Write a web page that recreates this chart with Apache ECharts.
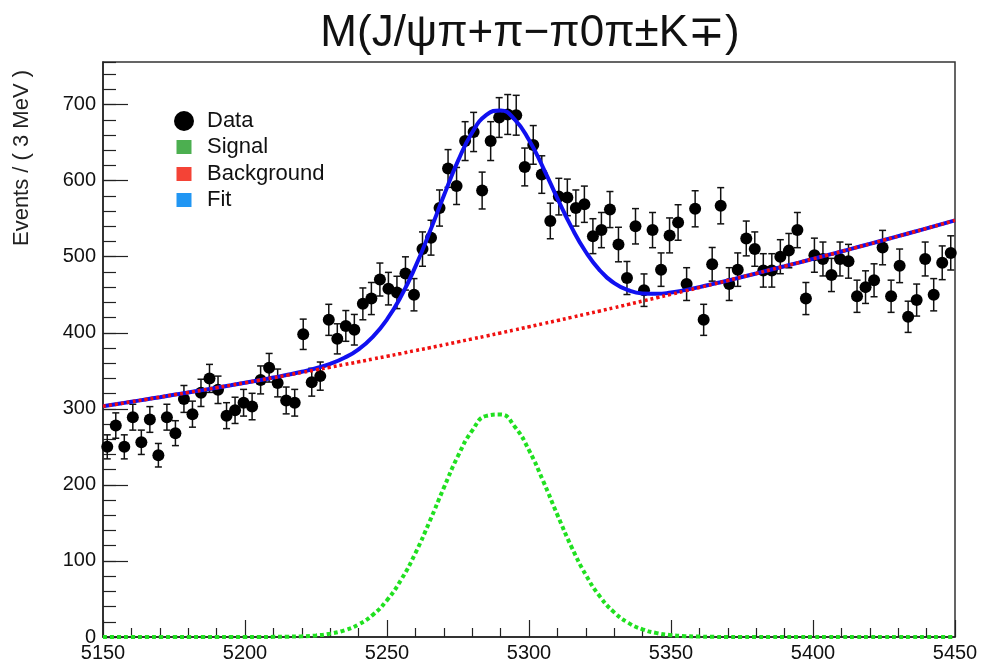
<!DOCTYPE html>
<html><head><meta charset="utf-8">
<script src="https://cdn.jsdelivr.net/npm/echarts@6/dist/echarts.min.js"></script>
<style>html,body{margin:0;padding:0;background:#fff}#c{width:984px;height:664px}</style>
</head><body><div id="c"></div>
<script>
// Histogram: 100 bins of 3 MeV from 5150 to 5450
const binStart = 5150;
const binWidth = 3;
const counts = [
 250,278,250,289,256,286,239,289,268,313,
 293,321,340,325,291,298,308,303,338,354,
 334,311,308,398,335,343,417,392,409,404,
 438,445,470,458,453,478,450,510,525,564,
 616,593,652,664,587,652,683,687,686,618,
 647,608,547,579,578,564,569,527,535,562,
 516,472,540,456,535,483,528,545,464,563,
 417,490,567,464,483,524,510,482,482,500,
 508,535,445,502,497,476,497,494,448,460,
 469,512,448,488,421,443,497,450,492,505
];
// Curves at 5 MeV steps
const curveX = [
 5150,5155,5160,5165,5170,5175,5180,5185,5190,5195,5200,5205,
 5210,5215,5220,5225,5230,5235,5240,5245,5250,5255,5260,5265,
 5270,5275,5280,5285,5290,5295,5300,5305,5310,5315,5320,5325,
 5330,5335,5340,5345,5350,5355,5360,5365,5370,5375,5380,5385,
 5390,5395,5400,5405,5410,5415,5420,5425,5430,5435,5440,5445,5450
];
const signalY = [
 0,0,0,0,0,0,0,0,0,0,0,0,
 0.2,0.4,0.9,2.1,4.4,8.8,16.5,29.1,48.4,75.4,110.3,151.8,
 196.1,238.0,271.4,290.7,292.5,276.5,245.6,204.9,160.6,118.2,81.7,53.1,
 32.4,18.6,10.0,5.1,2.4,1.1,0.5,0.2,0,0,0,0,
 0,0,0,0,0,0,0,0,0,0,0,0,0
];
const backgroundY = [
 303.4,306.3,309.3,312.3,315.3,318.4,321.5,324.6,327.8,331.0,334.3,337.6,
 340.9,344.3,347.8,351.2,354.7,358.3,361.8,365.5,369.1,372.8,376.6,380.3,
 384.1,388.0,391.9,395.8,399.8,403.8,407.9,412.0,416.1,420.3,424.5,428.7,
 433.0,437.3,441.7,446.1,450.5,455.0,459.5,464.1,468.7,473.4,478.0,482.8,
 487.5,492.3,497.2,502.0,506.9,511.9,516.9,521.9,527.0,532.1,537.3,542.5,547.7
];
const fitY = [
 303.4,306.3,309.3,312.3,315.3,318.4,321.5,324.6,327.8,331.0,334.3,337.6,
 341.1,344.7,348.7,353.3,359.1,367.1,378.3,394.6,417.5,448.2,486.9,532.1,
 580.2,626.0,663.3,686.5,692.3,680.3,653.5,616.9,576.7,538.5,506.2,481.8,
 465.4,455.9,451.7,451.2,452.9,456.1,460.0,464.3,468.7,473.4,478.0,482.8,
 487.5,492.3,497.2,502.0,506.9,511.9,516.9,521.9,527.0,532.1,537.3,542.5,547.7
];
const legendNames = ['Data','Signal','Background','Fit'];
const legendColors = ['#000000','#4CAF50','#F44336','#2196F3'];
const titleText = 'M(J/\u03c8\u03c0+\u03c0\u2212\u03c00\u03c0\u00b1K\u2213)';
const yTitle = 'Events / ( 3 MeV )';

const FONT = '"Liberation Sans", Arial, Helvetica, sans-serif';
const centers = counts.map((c, i) => binStart + binWidth * (i + 0.5));
const pts = counts.map((c, i) => [centers[i], c]);
const errs = counts.map((c, i) => [centers[i], c - Math.sqrt(c), c + Math.sqrt(c)]);
const zip = (ys) => curveX.map((x, i) => [x, ys[i]]);

const chart = echarts.init(document.getElementById('c'), null, {renderer: 'canvas'});

const legendGraphics = [];
const ly = [121, 147, 174, 200];
legendNames.forEach((n, i) => {
  if (i === 0) {
    legendGraphics.push({type: 'circle', shape: {cx: 184, cy: ly[i], r: 10}, style: {fill: legendColors[i]}, z: 20});
  } else {
    legendGraphics.push({type: 'rect', shape: {x: 176.5, y: ly[i] - 7, width: 15, height: 14}, style: {fill: legendColors[i]}, z: 20});
  }
  legendGraphics.push({type: 'text', x: 207, y: ly[i], z: 20,
    style: {text: n, fontSize: 22, fontFamily: FONT, fill: '#111', align: 'left', verticalAlign: 'middle'}});
});

chart.setOption({
  animation: false,
  backgroundColor: '#ffffff',
  title: {
    text: titleText, left: 525, top: 7, textAlign: 'center',
    textStyle: {fontSize: 44, fontWeight: 'normal', fontFamily: FONT, color: '#111'}
  },
  grid: {left: 103, right: 29, top: 62, bottom: 27, show: true, borderColor: '#333', borderWidth: 1.5, backgroundColor: 'transparent'},
  xAxis: {
    type: 'value', min: 5150, max: 5450, interval: 50,
    axisLine: {show: true, lineStyle: {color: '#222', width: 1.5}},
    axisTick: {show: true, inside: true, length: 17, lineStyle: {color: '#222', width: 1.2}},
    minorTick: {show: true, splitNumber: 5, length: 9, lineStyle: {color: '#222', width: 1.2}},
    splitLine: {show: false},
    axisLabel: {fontSize: 20, fontFamily: FONT, color: '#111', margin: 6, formatter: (v) => String(v)}
  },
  yAxis: [{
    type: 'value', min: 0, max: 756, interval: 100,
    axisLine: {show: true, lineStyle: {color: '#222', width: 1.5}},
    axisTick: {show: true, inside: true, length: 25, lineStyle: {color: '#222', width: 1.2}},
    splitLine: {show: false},
    axisLabel: {fontSize: 20, fontFamily: FONT, color: '#111', margin: 7, showMaxLabel: false, formatter: (v) => String(v)}
  }, {
    type: 'value', min: 0, max: 756, interval: 20, position: 'left',
    axisLine: {show: false},
    axisTick: {show: true, inside: true, length: 13, lineStyle: {color: '#222', width: 1.2}},
    splitLine: {show: false},
    axisLabel: {show: false}
  }],
  graphic: [
    {type: 'text', x: 22, y: 158, rotation: Math.PI / 2, z: 20,
     style: {text: yTitle, fontSize: 22, fontFamily: FONT, fill: '#222', align: 'center', verticalAlign: 'middle'}}
  ].concat(legendGraphics),
  series: [
    {
      name: 'Data errors', type: 'custom', z: 2, clip: true,
      renderItem: function (params, api) {
        const x = api.value(0), lo = api.value(1), hi = api.value(2);
        const p1 = api.coord([x, lo]), p2 = api.coord([x, hi]);
        const cw = 3.5;
        const st = {stroke: '#111', lineWidth: 1.5};
        return {type: 'group', children: [
          {type: 'line', shape: {x1: p1[0], y1: p1[1], x2: p2[0], y2: p2[1]}, style: st},
          {type: 'line', shape: {x1: p1[0] - cw, y1: p1[1], x2: p1[0] + cw, y2: p1[1]}, style: st},
          {type: 'line', shape: {x1: p2[0] - cw, y1: p2[1], x2: p2[0] + cw, y2: p2[1]}, style: st}
        ]};
      },
      encode: {x: 0, y: [1, 2]},
      data: errs
    },
    {
      name: 'Data', type: 'scatter', z: 3, symbol: 'circle', symbolSize: 12,
      itemStyle: {color: '#000', opacity: 1}, data: pts
    },
    {
      name: 'Fit', type: 'line', z: 4, smooth: true, showSymbol: false, symbol: 'none',
      lineStyle: {color: '#1010f0', width: 4}, data: zip(fitY)
    },
    {
      name: 'Background', type: 'line', z: 5, smooth: true, showSymbol: false, symbol: 'none',
      lineStyle: {color: '#f01010', width: 3.5, type: [3, 3]}, data: zip(backgroundY)
    },
    {
      name: 'Signal', type: 'line', z: 5, smooth: true, showSymbol: false, symbol: 'none',
      lineStyle: {color: '#20e020', width: 4, type: [4, 3]}, data: zip(signalY)
    }
  ]
});
</script>
</body></html>
